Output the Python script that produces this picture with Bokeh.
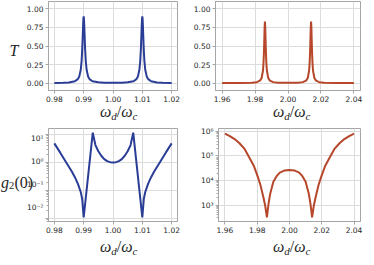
from bokeh.plotting import figure
from bokeh.models import Range1d, FixedTicker, LogScale, Div
from bokeh.layouts import column, row
from bokeh.core.properties import value
from bokeh.embed import file_html
from bokeh.resources import INLINE

# ---------------- data ----------------
tl_x = [0.980, 0.983, 0.985, 0.987, 0.988, 0.9885, 0.9890, 0.9893, 0.9895, 0.9897, 0.9898, 0.9899,
        0.9900,
        0.9901, 0.9902, 0.9903, 0.9905, 0.9907, 0.9910, 0.9915, 0.9920, 0.9930, 0.9950, 0.9970,
        1.0000,
        1.0030, 1.0050, 1.0070, 1.0080, 1.0085, 1.0090, 1.0093, 1.0095, 1.0097, 1.0098, 1.0099,
        1.0100,
        1.0101, 1.0102, 1.0103, 1.0105, 1.0107, 1.0110, 1.0115, 1.0120, 1.0130, 1.0150, 1.0170, 1.0200]
tl_T = [0.002, 0.005, 0.009, 0.025, 0.053, 0.090, 0.180, 0.304, 0.450, 0.662, 0.776, 0.865,
        0.900,
        0.865, 0.776, 0.662, 0.450, 0.304, 0.180, 0.090, 0.053, 0.025, 0.010, 0.006,
        0.005,
        0.006, 0.010, 0.025, 0.053, 0.090, 0.180, 0.304, 0.450, 0.662, 0.776, 0.865,
        0.900,
        0.865, 0.776, 0.662, 0.450, 0.304, 0.180, 0.090, 0.053, 0.025, 0.009, 0.005, 0.002]

tr_x = [1.960, 1.970, 1.978, 1.981, 1.983, 1.984, 1.9848, 1.9851, 1.9854, 1.9856, 1.9858,
        1.9860,
        1.9862, 1.9864, 1.9866, 1.9869, 1.9872, 1.9880, 1.9890, 1.9910, 1.9940,
        2.0000,
        2.0060, 2.0090, 2.0110, 2.0120, 2.0128, 2.0131, 2.0134, 2.0136, 2.0138,
        2.0140,
        2.0142, 2.0144, 2.0146, 2.0149, 2.0152, 2.0160, 2.0170, 2.0190, 2.0220, 2.0300, 2.0400]
tr_T = [0.001, 0.001, 0.005, 0.012, 0.033, 0.069, 0.166, 0.255, 0.415, 0.575, 0.747,
        0.830,
        0.747, 0.575, 0.415, 0.255, 0.166, 0.069, 0.033, 0.013, 0.005,
        0.003,
        0.005, 0.013, 0.033, 0.069, 0.166, 0.255, 0.415, 0.575, 0.747,
        0.830,
        0.747, 0.575, 0.415, 0.255, 0.166, 0.069, 0.033, 0.012, 0.005, 0.001, 0.001]

bl_x = [0.980, 0.982, 0.984, 0.986, 0.987, 0.988, 0.989, 0.9895, 0.9900, 0.9931, 0.9940,
        0.9950, 0.9960, 0.9970, 0.9980, 0.9990, 1.0000, 1.0010, 1.0020, 1.0030, 1.0040,
        1.0050, 1.0060, 1.0069, 1.0100, 1.0105, 1.0110, 1.0120, 1.0130, 1.0140, 1.0160,
        1.0180, 1.0200]
bl_g2 = [4.8, 2.24, 1.02, 0.47, 0.30, 0.178, 0.089, 0.050, 0.0112, 11.5, 4.17,
         2.51, 1.74, 1.32, 1.12, 1.03, 1.00, 1.03, 1.12, 1.32, 1.74,
         2.51, 4.17, 11.5, 0.0112, 0.050, 0.089, 0.178, 0.30, 0.47, 1.02,
         2.24, 4.8]

br_x = [1.960, 1.963, 1.966, 1.969, 1.972, 1.975, 1.978, 1.980, 1.982, 1.984, 1.985,
        1.986, 1.987, 1.988, 1.990, 1.992, 1.994, 1.997, 2.000, 2.003, 2.006, 2.008,
        2.010, 2.012, 2.013, 2.014, 2.015, 2.016, 2.018, 2.020, 2.022, 2.025, 2.028,
        2.031, 2.034, 2.037, 2.040]
br_g2 = [8.1e5, 6.5e5, 4.9e5, 3.3e5, 2.0e5, 8.9e4, 3.8e4, 1.66e4, 6.6e3, 1.86e3, 890,
         316, 1.12e3, 2.8e3, 8.9e3, 1.51e4, 2.09e4, 2.57e4, 2.69e4, 2.57e4, 2.09e4, 1.51e4,
         8.9e3, 2.8e3, 1.12e3, 316, 890, 1.86e3, 6.6e3, 1.66e4, 3.8e4, 8.9e4, 2.0e5,
         3.3e5, 4.9e5, 6.5e5, 8.1e5]

left_xticks = [0.98, 0.99, 1.00, 1.01, 1.02]
left_xlabels = ["0.98", "0.99", "1.00", "1.01", "1.02"]
right_xticks = [1.96, 1.98, 2.00, 2.02, 2.04]
right_xlabels = ["1.96", "1.98", "2.00", "2.02", "2.04"]
t_ticks = [0.0, 0.25, 0.5, 0.75, 1.0]
t_labels = ["0.00", "0.25", "0.50", "0.75", "1.00"]
bl_ticks = [0.01, 0.1, 1.0, 10.0]
bl_labels = ["10\u207b\u00b2", "10\u207b\u00b9", "10\u2070", "10\u00b9"]
br_ticks = [1e3, 1e4, 1e5, 1e6]
br_labels = ["10\u00b3", "10\u2074", "10\u2075", "10\u2076"]

BLUE = "#2a3d96"
RED = "#b6472b"
GRID = "#dcdcdc"
FRAME = "#a6a6a6"
TXT = "#262626"
TICKFONT = "DejaVu Sans"
MATHFONT = "Liberation Serif"

L_XR = (0.978, 1.022)
R_XR = (1.956, 2.044)
T_YR = (-0.1, 1.1)
BL_LO, BL_HI = -2.1, 1.21     # log10 limits, bottom-left
BR_LO, BR_HI = 2.33, 6.12     # log10 limits, bottom-right
TOTAL_W = 365


def minor_log(lo_exp, hi_exp):
    out = []
    for e in range(lo_exp, hi_exp + 1):
        for m in range(2, 10):
            out.append(m * 10.0 ** e)
    return out


def make_fig(w, h, bl, br, bt, bb, xr, yr, ylog, xticks, xlabels, yticks, ylabels, yminor=None):
    p = figure(width=w, height=h, x_range=Range1d(*xr), y_range=Range1d(*yr),
               y_axis_type="log" if ylog else "linear",
               output_backend="svg", toolbar_location=None,
               min_border_left=bl, min_border_right=br, min_border_top=bt, min_border_bottom=bb)
    p.outline_line_color = FRAME
    p.outline_line_width = 1
    p.background_fill_color = "white"
    p.border_fill_color = "white"
    xt = FixedTicker(ticks=xticks, minor_ticks=[])
    yt = FixedTicker(ticks=yticks, minor_ticks=yminor or [])
    p.xaxis.ticker = xt
    p.yaxis.ticker = yt
    p.xgrid.ticker = xt
    p.ygrid.ticker = yt
    p.xaxis.major_label_overrides = dict(zip(xticks, xlabels))
    p.yaxis.major_label_overrides = dict(zip(yticks, ylabels))
    for ax in (p.xaxis, p.yaxis):
        ax.axis_line_color = FRAME
        ax.major_tick_line_color = FRAME
        ax.minor_tick_line_color = FRAME
        ax.major_tick_in = 0
        ax.major_tick_out = 3
        ax.minor_tick_in = 0
        ax.minor_tick_out = 2
        ax.major_label_text_font = TICKFONT
        ax.major_label_text_font_size = "7.5px"
        ax.major_label_text_color = TXT
        ax.major_label_standoff = 2
    p.xgrid.grid_line_color = GRID
    p.ygrid.grid_line_color = GRID
    return p


def strip(w, h, xr, yr, ylog=False):
    s = figure(width=w, height=h, x_range=Range1d(*xr), y_range=Range1d(*yr),
               x_axis_type=None, y_axis_type=None, output_backend="svg",
               toolbar_location=None, min_border=0)
    if ylog:
        s.y_scale = LogScale()
    s.outline_line_color = None
    s.background_fill_color = "white"
    s.border_fill_color = "white"
    return s


def put(s, x, y, txt, size, style="italic", font=MATHFONT, yoff=0):
    s.text(x=[x], y=[y], text=[txt], text_font=value(font),
           text_font_size=value(f"{size}px"), text_font_style=value(style),
           text_color=TXT, text_align=value("left"), text_baseline=value("alphabetic"),
           y_offset=yoff)


SUB = "font-size:11px;vertical-align:-3px;"


def xlabel_html(left, top):
    return (f'<div style="position:absolute;left:{left}px;top:{top}px;line-height:0;'
            f'white-space:nowrap;font-family:\'{MATHFONT}\';font-size:16px;color:{TXT};">'
            f'<i>\u03c9</i><i style="{SUB}">d</i>/<i>\u03c9</i><i style="{SUB}">c</i></div>')


def xlabel_div(h, top):
    html = (f'<div style="position:relative;width:{TOTAL_W}px;height:{h}px;">'
            + xlabel_html(100, top) + xlabel_html(273, top) + '</div>')
    return Div(text=html, width=TOTAL_W, height=h, margin=(0, 0, 0, 0),
               styles={"overflow": "visible"})


# ---------------- row 1 ----------------
H1 = 104
sT = strip(22, H1, (0, 22), (H1, 0))
put(sT, 9, 57, "T", 16)

p1 = make_fig(161, H1, 26, 6, 1, 14, L_XR, T_YR, False,
              left_xticks, left_xlabels, t_ticks, t_labels)
p1.line(tl_x, tl_T, line_color=BLUE, line_width=2)

p2 = make_fig(182, H1, 32, 5, 1, 14, R_XR, T_YR, False,
              right_xticks, right_xlabels, t_ticks, t_labels)
p2.line(tr_x, tr_T, line_color=RED, line_width=2)

d1 = xlabel_div(16, 8)

# ---------------- row 2 ----------------
H2 = 115
BT3, BB3 = 7, 14
FH3 = H2 - BT3 - BB3
k = (BL_HI - BL_LO) / FH3          # decades per pixel
LS = 44
sg = strip(LS, H2, (0, LS), (10 ** (BL_LO - BB3 * k), 10 ** (BL_HI + BT3 * k)), ylog=True)
sg.text(x=[LS - 1] * len(bl_ticks), y=bl_ticks, text=bl_labels, text_font=value(TICKFONT),
        text_font_size=value("7.5px"), text_color=TXT, text_align=value("right"),
        text_baseline=value("middle"))
y_g = 10 ** (BL_HI + BT3 * k - 67 * k)
put(sg, 0.5, y_g, "g", 16)
put(sg, 8.5, y_g, "2", 10.5, "normal", yoff=3)
put(sg, 14, y_g, "(0)", 16, "normal")

p3 = make_fig(139, H2, 4, 6, BT3, BB3, L_XR, (10 ** BL_LO, 10 ** BL_HI), True,
              left_xticks, left_xlabels, bl_ticks, ["", "", "", ""], minor_log(-3, 1))
p3.yaxis.major_label_standoff = 0
p3.line(bl_x, bl_g2, line_color=BLUE, line_width=2)

p4 = make_fig(182, H2, 35, 5, 8, 14, R_XR, (10 ** BR_LO, 10 ** BR_HI), True,
              right_xticks, right_xlabels, br_ticks, br_labels, minor_log(2, 6))
p4.line(br_x, br_g2, line_color=RED, line_width=2)

d2 = xlabel_div(22, 12)

layout = column(row(sT, p1, p2), d1, row(sg, p3, p4), d2)
open("out.html", "w").write(file_html(layout, INLINE))
